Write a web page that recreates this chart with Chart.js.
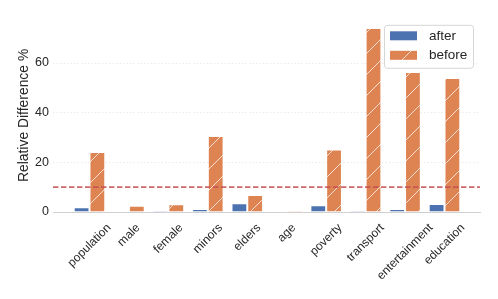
<!DOCTYPE html>
<html>
<head>
<meta charset="utf-8">
<script src="https://cdn.jsdelivr.net/npm/chart.js@4.4.1/dist/chart.umd.min.js"></script>
<style>
  html, body { margin: 0; padding: 0; background: #fff; }
  #wrap { width: 498px; height: 299px; }
</style>
</head>
<body>
<div id="wrap"><canvas id="chart" width="498" height="299"></canvas></div>
<script>
const categories = ['population', 'male', 'female', 'minors', 'elders', 'age', 'poverty', 'transport', 'entertainment', 'education'];
const after = [1.9, 0, 0.4, 1.2, 3.5, 0, 2.7, 0.5, 1.2, 3.2];
const before = [24.2, 2.5, 3.1, 30.6, 6.8, 0.4, 25.2, 74.1, 56.4, 54.0];
const yTicks = [0, 20, 40, 60];
const threshold = 10;

const FONT = '"Liberation Sans", Arial, sans-serif';
const TEXT = '#262626';
const BLUE = '#4c72b0';
const ORANGE = '#dd8452';

// "/" hatch like matplotlib
function hatch(color) {
  const n = 21;
  const c = document.createElement('canvas');
  c.width = c.height = n;
  const g = c.getContext('2d');
  g.fillStyle = color;
  g.fillRect(0, 0, n, n);
  g.strokeStyle = 'rgba(255,255,255,0.75)';
  g.lineWidth = 1;
  g.beginPath();
  g.moveTo(-1, n + 1); g.lineTo(n + 1, -1);
  g.moveTo(-2, 2); g.lineTo(2, -2);
  g.moveTo(n - 2, n + 2); g.lineTo(n + 2, n - 2);
  g.stroke();
  return g.createPattern(c, 'repeat');
}
const orangeHatch = hatch(ORANGE);

const extras = {
  id: 'extras',
  afterDatasetsDraw(chart) {
    const { ctx, chartArea, scales: { y } } = chart;
    const py = y.getPixelForValue(threshold);
    ctx.save();
    ctx.strokeStyle = 'rgba(196,78,82,0.85)';
    ctx.lineWidth = 1.8;
    ctx.setLineDash([5.5, 2.5]);
    ctx.beginPath();
    ctx.moveTo(chartArea.left, py);
    ctx.lineTo(chartArea.right, py);
    ctx.stroke();
    ctx.restore();
  },
  afterDraw(chart) {
    const { ctx, chartArea, scales: { x } } = chart;
    // rotated x labels, centred under each group
    ctx.save();
    const fs = 12;
    ctx.font = fs + 'px ' + FONT;
    ctx.fillStyle = TEXT;
    const s = Math.SQRT1_2;
    const h = fs * 1.16;
    categories.forEach((label, i) => {
      const w = ctx.measureText(label).width;
      const half = (w + h) * s / 2;
      ctx.save();
      ctx.translate(x.getPixelForValue(i), x.top + 9 + half);
      ctx.rotate(-Math.PI / 4);
      ctx.textAlign = 'center';
      ctx.textBaseline = 'middle';
      ctx.fillText(label, 0, 0);
      ctx.restore();
    });
    ctx.restore();

    // legend box
    const bw = 89, bh = 43;
    const bx = chartArea.right - 7 - bw;
    const by = chartArea.top + 6;
    ctx.save();
    ctx.fillStyle = 'rgba(255,255,255,0.85)';
    ctx.strokeStyle = '#d6d6d6';
    ctx.lineWidth = 1;
    ctx.beginPath();
    ctx.roundRect(bx + 0.5, by + 0.5, bw, bh, 3);
    ctx.fill();
    ctx.stroke();
    ctx.font = '13.5px ' + FONT;
    ctx.textBaseline = 'middle';
    chart.data.datasets.forEach((ds, i) => {
      const cy = by + 11 + i * 19.5;
      ctx.fillStyle = ds.backgroundColor;
      ctx.fillRect(bx + 6, cy - 4.5, 27, 9);
      ctx.fillStyle = TEXT;
      ctx.fillText(ds.label, bx + 45, cy);
    });
    ctx.restore();
  }
};

new Chart(document.getElementById('chart').getContext('2d'), {
  type: 'bar',
  data: {
    datasets: [{
      label: 'after',
      data: after.map((v, i) => ({ x: i, y: v })),
      backgroundColor: BLUE,
      borderColor: 'rgba(255,255,255,0.5)',
      borderWidth: 1,
      categoryPercentage: 0.8,
      barPercentage: 1.0,
    }, {
      label: 'before',
      data: before.map((v, i) => ({ x: i, y: v })),
      backgroundColor: orangeHatch,
      borderColor: 'rgba(255,255,255,0.5)',
      borderWidth: 1,
      categoryPercentage: 0.8,
      barPercentage: 1.0,
    }]
  },
  options: {
    responsive: false,
    animation: false,
    devicePixelRatio: 1,
    layout: { padding: { left: 0, right: 18, top: 18.8, bottom: 0 } },
    plugins: {
      legend: { display: false },
      tooltip: { enabled: false },
    },
    scales: {
      x: {
        type: 'linear',
        offset: false,
        min: -0.925,
        max: 9.9,
        grid: { display: false, offset: false },
        ticks: { display: false },
        border: { display: true, color: '#d0d0d0', width: 1 },
        afterFit: (scale) => { scale.height = 87; },
      },
      y: {
        min: 0,
        max: 77.8,
        afterBuildTicks: (scale) => { scale.ticks = yTicks.map(v => ({ value: v })); },
        afterFit: (scale) => { scale.width = 53; },
        ticks: {
          font: { family: FONT, size: 12.5 },
          color: TEXT,
          padding: 4,
        },
        grid: {
          color: (c) => c.tick && c.tick.value === 0 ? 'rgba(0,0,0,0)' : '#ebebeb',
          drawTicks: false,
        },
        border: { display: false, dash: [1.5, 2] },
        title: {
          display: true,
          text: 'Relative Difference %',
          font: { family: FONT, size: 13.9 },
          color: TEXT,
          padding: { top: 16, bottom: 0 },
        },
      }
    }
  },
  plugins: [extras]
});
</script>
</body>
</html>
